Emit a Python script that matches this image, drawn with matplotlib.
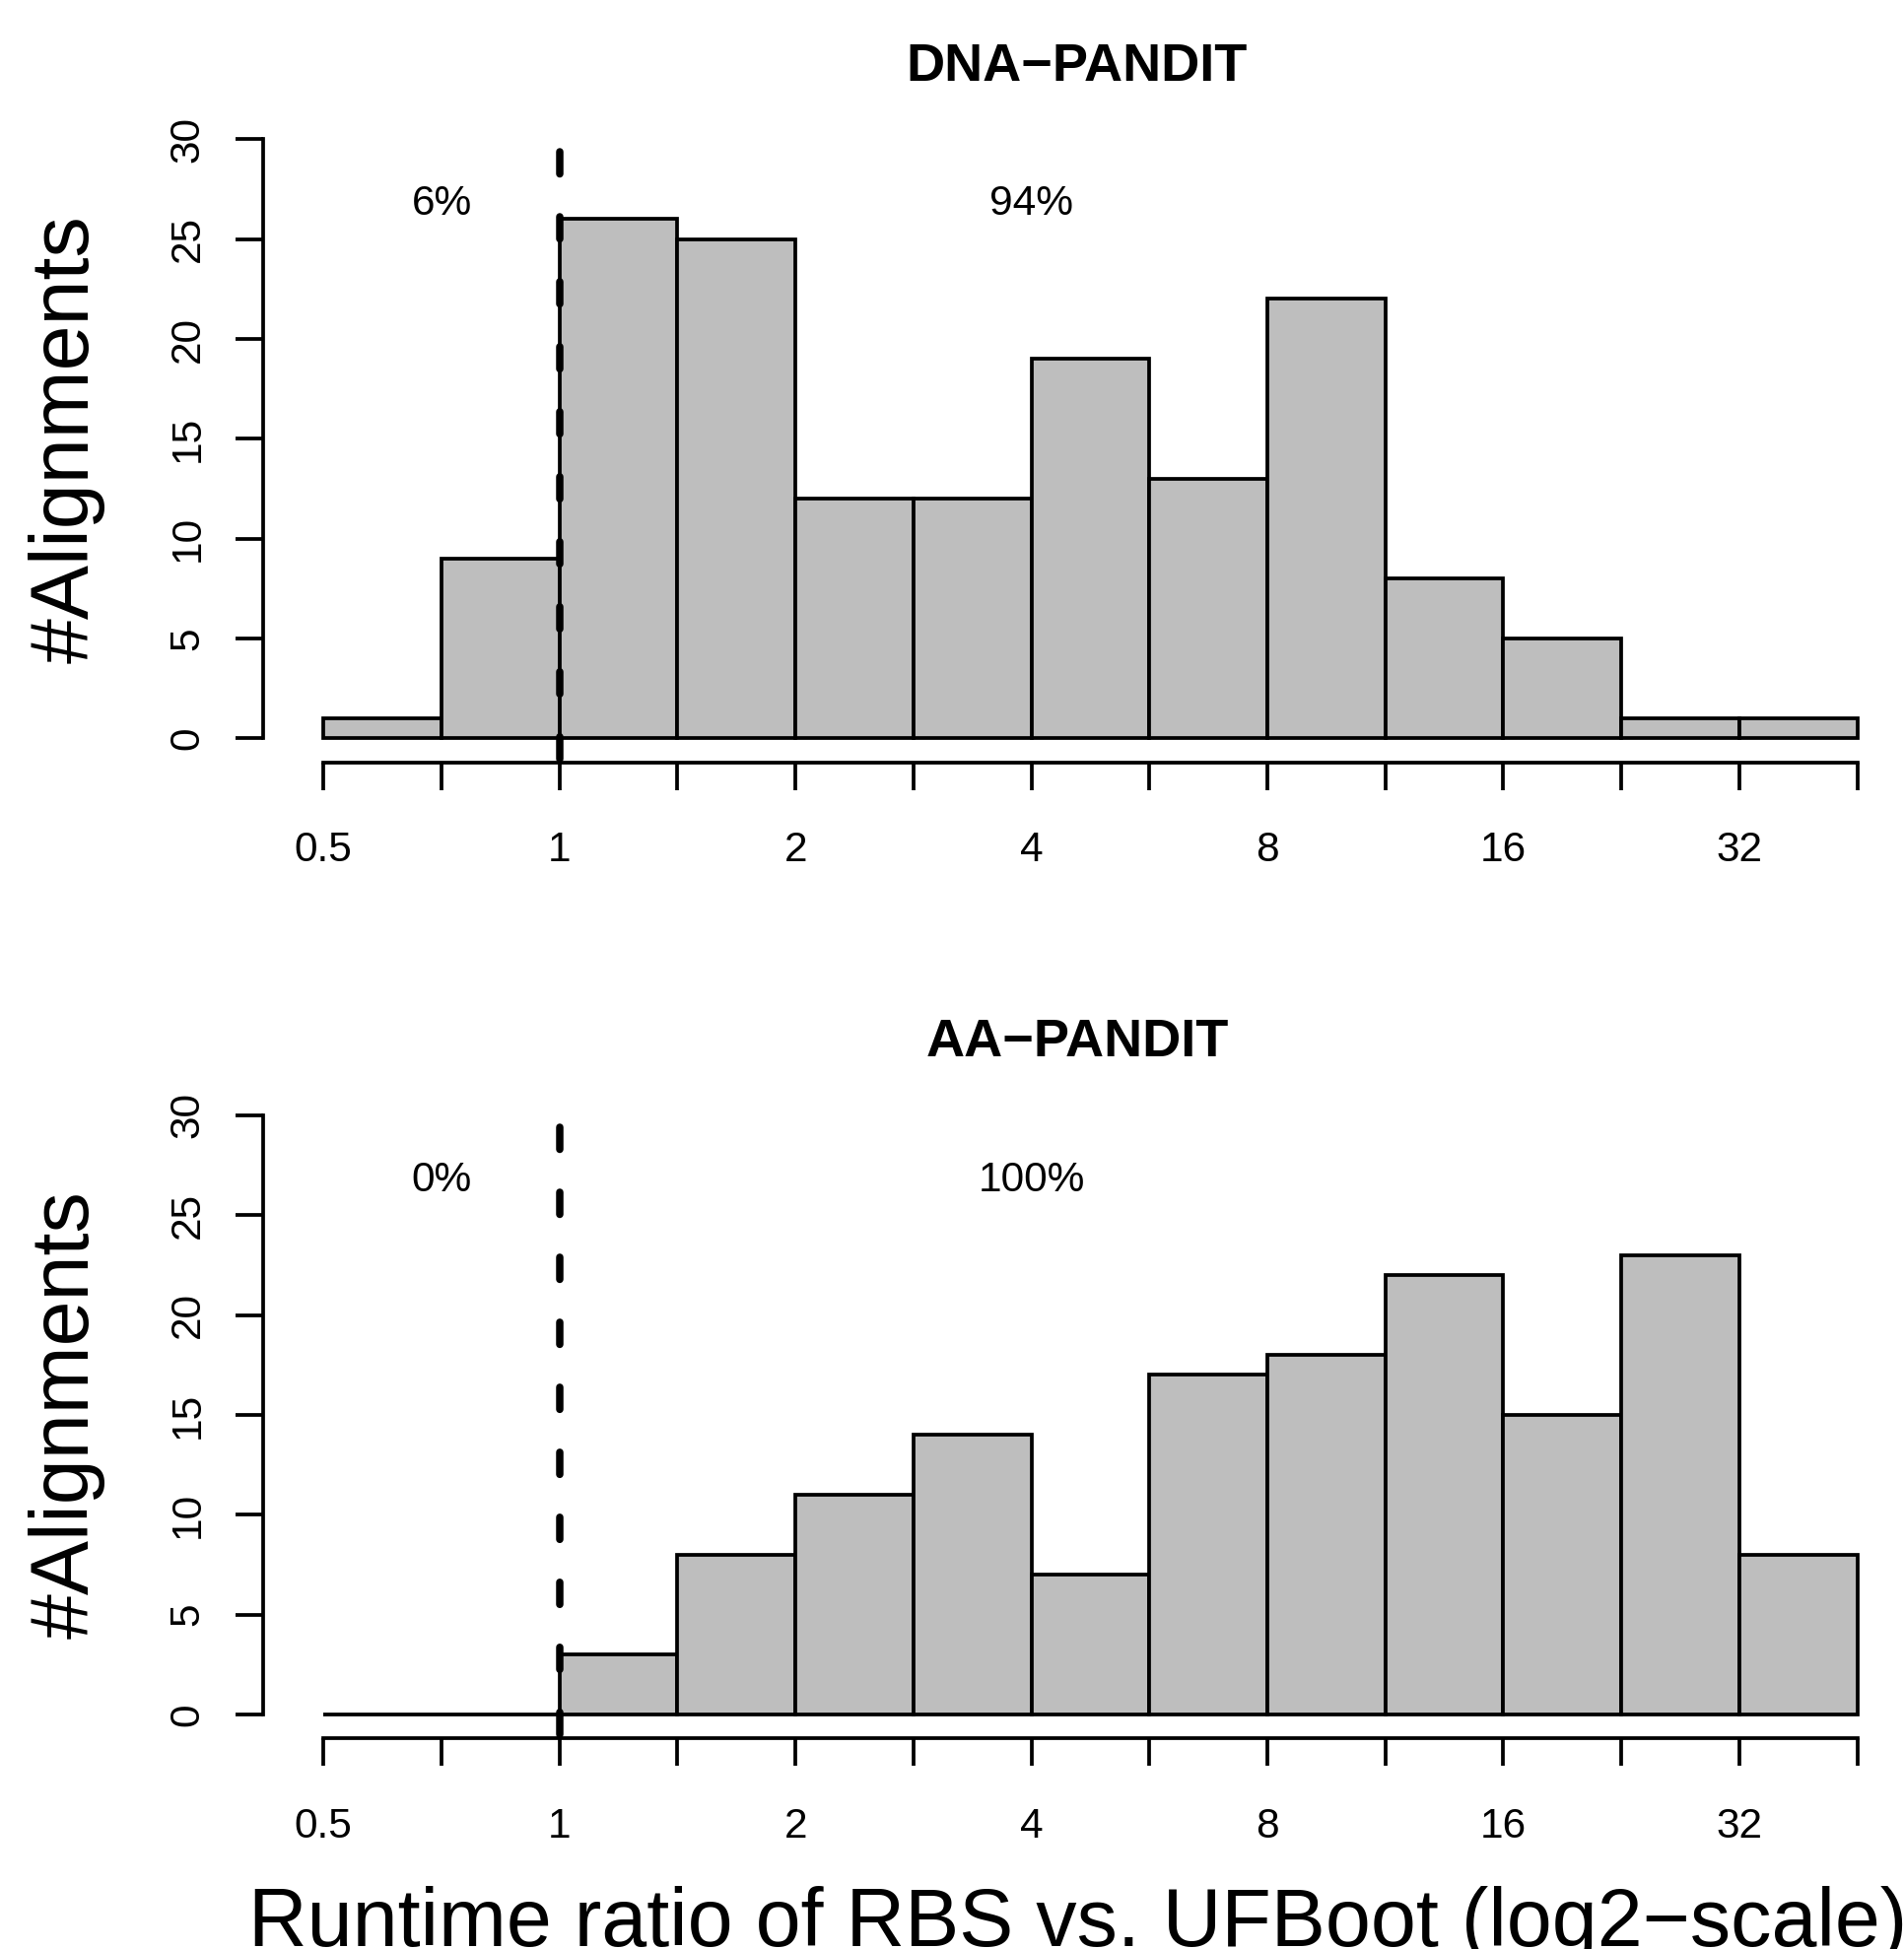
import numpy as np
import matplotlib
matplotlib.use("Agg")
import matplotlib.pyplot as plt

W, H = 1933, 1978
DPI = 100

# histogram bins on log2 scale of runtime ratio (RBS / UFBoot)
bin_edges = [-1.0, -0.5, 0.0, 0.5, 1.0, 1.5, 2.0, 2.5, 3.0, 3.5, 4.0, 4.5, 5.0, 5.5]
dna_counts = [1, 9, 26, 25, 12, 12, 19, 13, 22, 8, 5, 1, 1]
aa_counts = [0, 0, 3, 8, 11, 14, 7, 17, 18, 22, 15, 23, 8]

panel_titles = ["DNA\u2212PANDIT", "AA\u2212PANDIT"]
left_pct = ["6%", "0%"]
right_pct = ["94%", "100%"]

x_tick_labels = ["0.5", "", "1", "", "2", "", "4", "", "8", "", "16", "", "32", ""]
y_ticks = [0, 5, 10, 15, 20, 25, 30]

plt.rcParams['font.family'] = ['Liberation Sans', 'DejaVu Sans']
plt.rcParams['lines.scale_dashes'] = False

fig = plt.figure(figsize=(W / DPI, H / DPI), dpi=DPI)
fig.patch.set_facecolor('white')


def fx(x):
    return x / W


def fy(y):
    return 1 - y / H


LW = 2.7
panel_shift = 990.5
for i, counts in enumerate([dna_counts, aa_counts]):
    dy = i * panel_shift
    left, right = 267.0, 1922.0
    top, bottom = 117.0 + dy, 773.8 + dy
    ax = fig.add_axes([fx(left), fy(bottom), (right - left) / W, (bottom - top) / H])
    ax.set_xlim(-1.256, 5.656)
    ax.set_ylim(-1.2, 31.2)
    ax.patch.set_alpha(0)

    widths = np.diff(bin_edges)
    ax.bar(bin_edges[:-1], counts, width=widths, align='edge',
           color='#BEBEBE', edgecolor='black', linewidth=LW)

    # dashed marker at ratio 1
    ax.axvline(0, color='black', lw=5.4, ls=(44.8, (16.2, 31.3)),
               dash_capstyle='round')

    for s in ['top', 'right']:
        ax.spines[s].set_visible(False)
    ax.spines['left'].set_bounds(0, 30)
    ax.spines['bottom'].set_bounds(bin_edges[0], bin_edges[-1])
    for s in ['left', 'bottom']:
        ax.spines[s].set_linewidth(LW)

    ax.set_xticks(bin_edges)
    ax.set_xticklabels(x_tick_labels)
    ax.set_yticks(y_ticks)
    ax.set_yticklabels([str(v) for v in y_ticks])
    ax.tick_params(axis='both', direction='out', length=20, width=LW,
                   labelsize=30.5, colors='black')
    ax.tick_params(axis='x', pad=30)
    ax.tick_params(axis='y', pad=20.5, labelrotation=90)
    for lab in ax.get_yticklabels():
        lab.set_verticalalignment('center')

    ax.text(-0.5, 26.2, left_pct[i], ha='center', va='baseline', fontsize=30.5)
    ax.text(2.0, 26.2, right_pct[i], ha='center', va='baseline', fontsize=30.5)

    fig.text(fx(1093), fy(81.7 + dy), panel_titles[i], ha='center', va='baseline',
             fontsize=39, fontweight='bold')

    fig.text(fx(90), fy((top + bottom) / 2), "#Alignments", rotation=90,
             rotation_mode='anchor', ha='center', va='baseline', fontsize=59.5)

fig.text(fx(1094), fy(1975), "Runtime ratio of RBS vs. UFBoot (log2\u2212scale)",
         ha='center', va='baseline', fontsize=59.5)

fig.savefig("out.png", dpi=DPI, facecolor='white')
